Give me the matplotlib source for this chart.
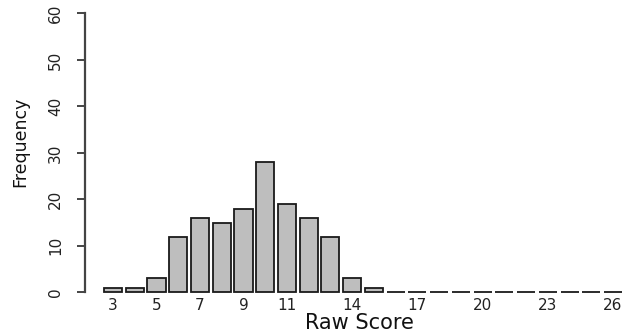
import numpy as np
import matplotlib
matplotlib.use("Agg")
import matplotlib.pyplot as plt

# raw scores and how often each one occurs
scores = [3, 4, 5, 6, 7, 8, 9, 10, 11, 12, 13, 14, 15, 16, 17, 18, 19, 20, 21, 22, 23, 24, 25, 26]
counts = [1, 1, 3, 12, 16, 15, 18, 28, 19, 16, 12, 3, 1, 0, 0, 0, 0, 0, 0, 0, 0, 0, 0, 0]
shown_labels = [3, 5, 7, 9, 11, 14, 17, 20, 23, 26]  # the ones that fit under the bars
y_ticks = [0, 10, 20, 30, 40, 50, 60]

plt.rcParams['font.family'] = ['DejaVu Sans']

fig = plt.figure(figsize=(6.27, 3.36), dpi=100)
ax = fig.add_axes([85 / 627, 40 / 336, 542 / 627, 287.2 / 336])

# barplot-like spacing: width 1, gap 0.2
pos = 0.7 + 1.2 * np.arange(len(scores))
ax.bar(pos, counts, width=1.0, color='#bebebe', edgecolor='#1a1a1a', linewidth=1.3)

ax.set_xlim(-0.845, 29.07)
ax.set_ylim(-0.8, 61.0)

tick_pos = [pos[scores.index(s)] for s in shown_labels]
ax.set_xticks(tick_pos)
ax.set_xticklabels([str(s) for s in shown_labels])
ax.tick_params(axis='x', length=0, pad=1.5, labelsize=11, labelcolor='#222222')

ax.set_yticks(y_ticks)
ax.set_yticklabels([str(v) for v in y_ticks], rotation=90, va='center')
ax.tick_params(axis='y', length=5.8, width=1.4, color='#444444', pad=10,
               labelsize=11, labelcolor='#222222')

for s in ['top', 'right', 'bottom']:
    ax.spines[s].set_visible(False)
ax.spines['left'].set_bounds(0, 60)
ax.spines['left'].set_linewidth(1.6)
ax.spines['left'].set_color('#444444')

fig.text(359 / 627, 7 / 336, 'Raw Score', ha='center', va='baseline', fontsize=15, color='#111111')
fig.text(20 / 627, 194 / 336, 'Frequency', ha='center', va='center', rotation=90, fontsize=12.5, color='#111111')

fig.savefig('out.png', dpi=100)
